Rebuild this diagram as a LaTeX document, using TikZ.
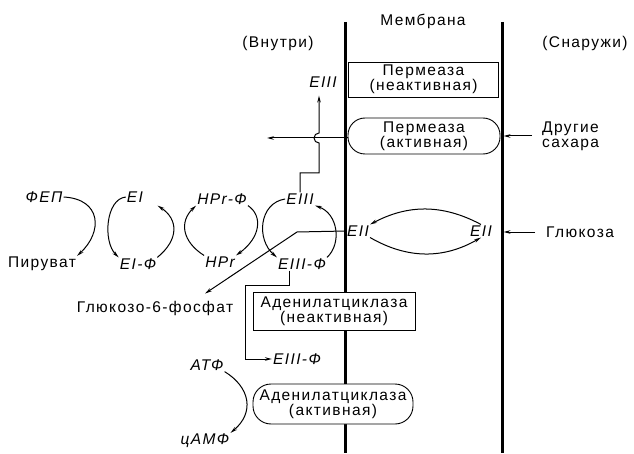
\documentclass[tikz,border=0pt]{standalone}
\usepackage{fontspec}
\setmainfont{Liberation Sans}[LetterSpace=9]
\usetikzlibrary{positioning, arrows.meta}

\begin{document}
\begin{tikzpicture}[x=1pt, y=1pt, >={Stealth[length=7pt,width=3.5pt]},
    every node/.style={font=\fontsize{15.5}{15}\selectfont, inner sep=1pt},
    lbl/.style={font=\fontsize{15.5}{15}\selectfont\itshape},
    box/.style={draw, fill=white, line width=0.9pt, align=center, minimum width=152pt, minimum height=36pt},
    wire/.style={line width=1pt},
    memb/.style={line width=3pt}]
    \useasboundingbox (0,0) rectangle (634,453);

    % membrane
    \coordinate (mL1) at (345,431); \coordinate (mL2) at (345,0);
    \coordinate (mR1) at (502,431); \coordinate (mR2) at (502,0);
    \draw[memb] (mL1) -- (mL2);
    \draw[memb] (mR1) -- (mR2);
    \node (membr) at (423,432) {Мембрана};
    \node (inside) at (278,410) {(Внутри)};
    \node (outside) at (585,410) {(Снаружи)};

    % permease
    \node[box, minimum width=150pt, minimum height=35pt] (perm1) at (423.5,373.5) {Пермеаза\\(неактивная)};
    \node[box, rounded corners=17pt] (perm2) at (424,317) {Пермеаза\\(активная)};
    \node[anchor=west, align=left] (other) at (541,317) {Другие\\сахара};
    \node[anchor=west] (glc) at (545,221) {Глюкоза};
    \node[lbl] (eIIa) at (358,222) {EII};
    \node[lbl] (eIIb) at (481,222) {EII};

    % phosphate chain
    \node[lbl] (fep) at (44,256) {ФЕП};
    \node (pir) at (42,189) {Пируват};
    \node[lbl] (ei) at (135,256) {EI};
    \node[lbl] (eif) at (138,189) {EI-Ф};
    \node[lbl] (hprf) at (222,254) {HPr-Ф};
    \node[lbl] (hpr) at (220,191) {HPr};
    \node[lbl] (eiii) at (300,254) {EIII};
    \node[lbl] (eiiif) at (302,189) {EIII-Ф};
    \node[lbl] (eiiiT) at (323,371) {EIII};
    \node (g6p) at (155,145) {Глюкозо-6-фосфат};

    % adenylate cyclase
    \node[box, minimum width=162pt, minimum height=38pt] (aden1) at (334,142) {Аденилатциклаза\\(неактивная)};
    \node[lbl] (eiiif2) at (297,94) {EIII-Ф};
    \node[box, rounded corners=18pt, minimum width=160pt, minimum height=40pt] (aden2) at (333,49) {Аденилатциклаза\\(активная)};
    \node[lbl] (atf) at (207,88) {АТФ};
    \node[lbl] (camp) at (205,12) {цАМФ};

    \coordinate (outL) at (267,315);
    \coordinate (hop) at (319,315);
    \coordinate (turn) at (319,280);
    \coordinate (kink) at (297,221);
    \coordinate (elbow) at (245,168);

    % arrows
    \draw[wire, ->, shorten <=9pt, shorten >=1.5pt] (other.west) -- (other.west -| mR1);
    \draw[wire, ->, shorten <=10pt, shorten >=1.5pt] (glc.west) -- (glc.west -| mR1);
    \draw[wire, ->] (perm2.west |- outL) -- (outL);
    \draw[wire, ->, shorten >=7pt] (eiii.north) |- (turn) -- ([yshift=-5pt]hop)
        arc[start angle=270, end angle=90, radius=5pt] -- (hop |- eiiiT.south);
    \draw[wire, ->] (eIIb.north) to[bend right=28] (eIIa.north east);
    \draw[wire, ->] (eIIa.south east) to[bend right=30] (eIIb.south);
    \draw[wire, ->] (eIIa.west) -- (kink) -- ([xshift=50pt, yshift=6pt]g6p.north);
    \draw[wire, ->] ([xshift=-13pt]eiiif.south) |- (elbow) |- (eiiif2.west);

    % cycles
    \draw[wire, ->] (fep.east) .. controls +(38,-2) and +(26,24) .. (pir.north east);
    \draw[wire, ->] (ei.west) .. controls +(-20,-2) and +(-16,16) .. (eif.north west);
    \draw[wire, ->, shorten >=16pt] (eif.north east) .. controls +(22,18) and +(34,-22) .. (ei.east);
    \draw[wire, ->] (hpr.north west) .. controls +(-22,14) and +(-17,-16) .. (hprf.south west);
    \draw[wire, ->] (hprf.south east) .. controls +(15,-10) and +(25,18) .. (hpr.north east);
    \draw[wire, ->] (eiii.west) .. controls +(-26,-4) and +(-21,18) .. (eiiif.north west);
    \draw[wire, ->] (eiiif.north east) .. controls +(15,14) and +(23,-8) .. (eiii.south east);
    \draw[wire, ->] (atf.south east) .. controls +(26,-16) and +(24,20) .. (camp.north east);
\end{tikzpicture}
\end{document}
